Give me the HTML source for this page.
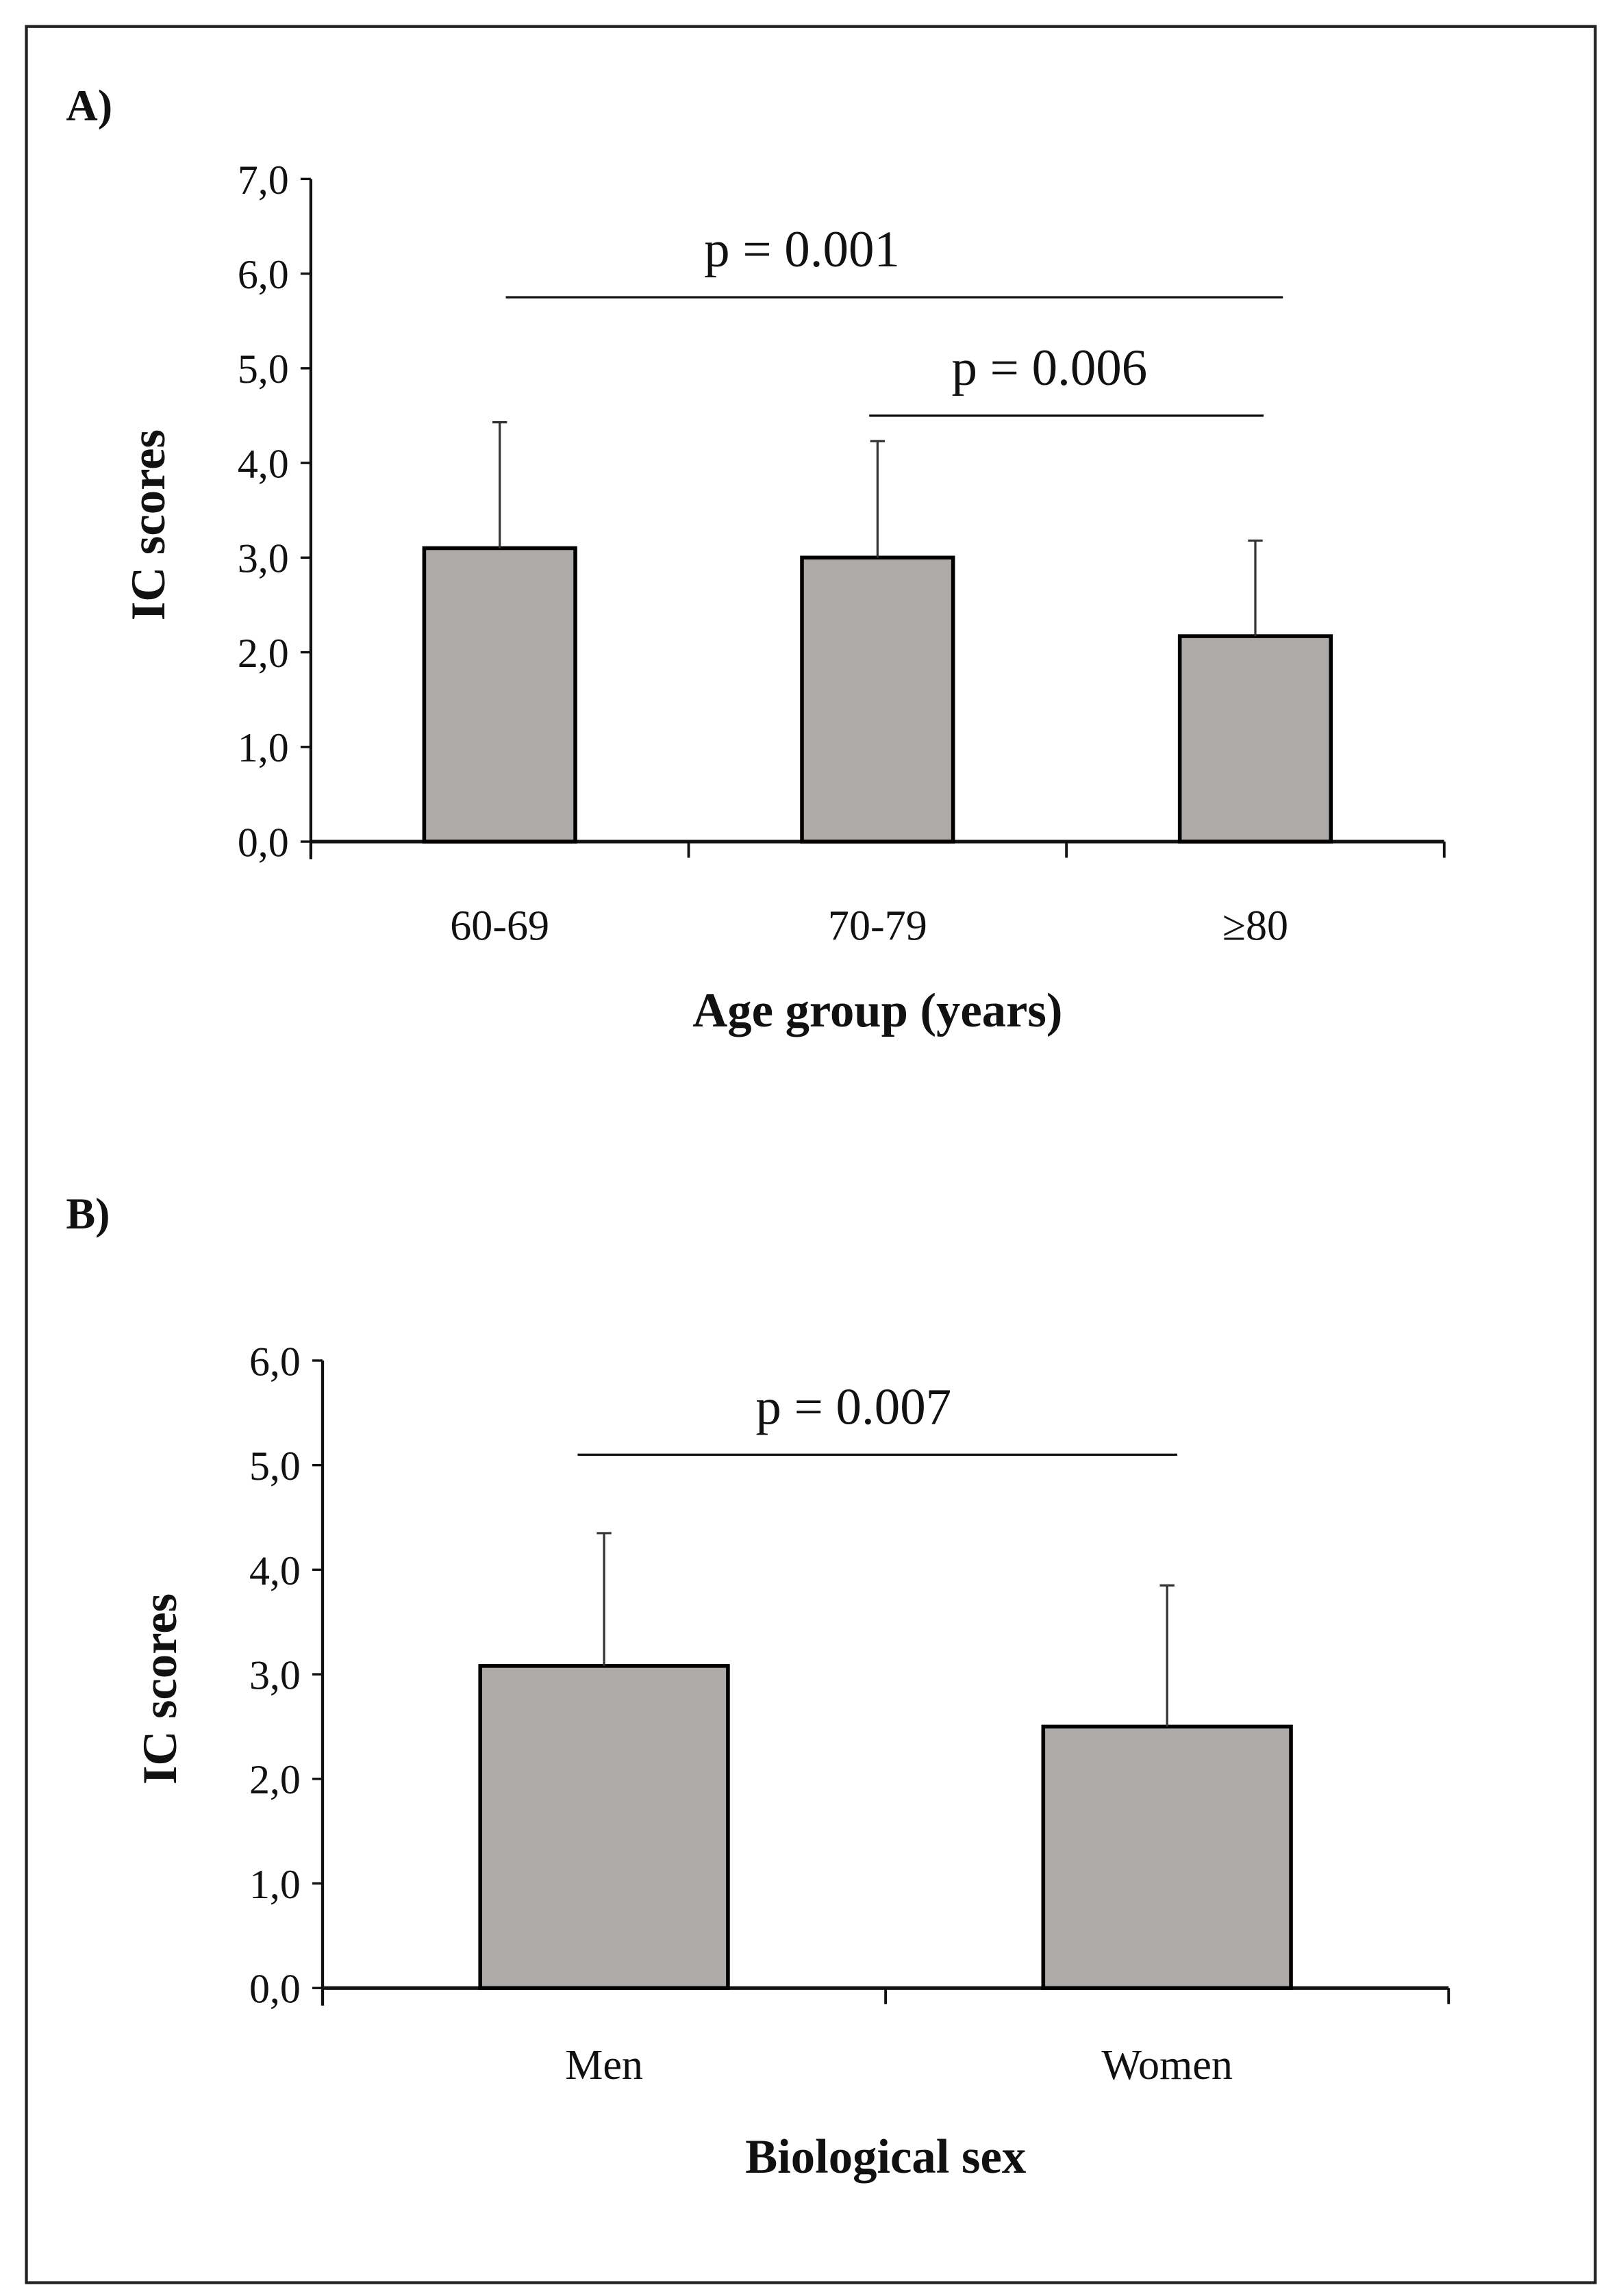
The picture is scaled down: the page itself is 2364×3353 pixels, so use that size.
<!DOCTYPE html>
<html><head><meta charset="utf-8"><style>
html,body{margin:0;padding:0;background:#fff}
svg{display:block}
text{font-family:"Liberation Serif",serif;fill:#111}
</style></head><body>
<svg id="fig" width="2364" height="3353" viewBox="0 0 1104.2 1566" xmlns="http://www.w3.org/2000/svg">
<rect x="18" y="18" width="1070" height="1539" fill="none" stroke="#222" stroke-width="2"/>
<text x="45" y="82" font-size="30" font-weight="bold">A)</text>
<text x="45" y="838" font-size="30" font-weight="bold">B)</text>
<g id="chartA"></g>
<g id="chartB"></g>
</svg>
<script>
const ageCategories = ["60-69", "70-79", "≥80"];
const ageMeans = [3.1, 3.0, 2.17];
const ageErrTops = [4.43, 4.23, 3.18];
const ageTicks = ["0,0","1,0","2,0","3,0","4,0","5,0","6,0","7,0"];
const ageSig = [{from:0.516, to:2.573, val:5.75, at:1.3, label:"p = 0.001"}, {from:1.478, to:2.522, val:4.5, at:1.955, label:"p = 0.006"}];

const sexCategories = ["Men", "Women"];
const sexMeans = [3.08, 2.5];
const sexErrTops = [4.35, 3.85];
const sexTicks = ["0,0","1,0","2,0","3,0","4,0","5,0","6,0"];
const sexSig = [{from:0.453, to:1.518, val:5.1, at:0.943, label:"p = 0.007"}];

const NS = "http://www.w3.org/2000/svg";
function mk(parent, tag, attrs, txt){
  const e = document.createElementNS(NS, tag);
  for (const k in attrs) e.setAttribute(k, attrs[k]);
  if (txt !== undefined) e.textContent = txt;
  parent.appendChild(e);
  return e;
}
function drawChart(g, cfg, cats, means, errs, ticks, sigs){
  const x0 = cfg.x0, x1 = cfg.x1, y0 = cfg.y0, yTop = cfg.yTop, maxV = ticks.length - 1;
  const yS = v => y0 - (y0 - yTop) * v / maxV;
  const band = (x1 - x0) / cats.length;
  const xS = i => x0 + band * (i + 0.5);
  const xB = u => x0 + band * u;
  let e = mk(g, "line", {x1:x0, y1:yTop, x2:x0, y2:y0+12, stroke:"#111", "stroke-width":2});
  
  
  ticks.forEach((t, i) => {
    const y = yS(i);
    let l = mk(g, "line", {x1:x0-7, y1:y, x2:x0, y2:y, stroke:"#111", "stroke-width":1.6});
    
    
    let tx = mk(g, "text", {x:x0-15, y:y+10, "font-size":28, "text-anchor":"end"}, t);
    
    
  });
  e = mk(g, "line", {x1:x0, y1:y0, x2:x1, y2:y0, stroke:"#111", "stroke-width":2.4});
  
  
  for (let i = 0; i <= cats.length; i++) {
    const x = xB(i);
    let l = mk(g, "line", {x1:x, y1:y0, x2:x, y2:y0+11, stroke:"#111", "stroke-width":1.8});
    
    
  }
  cats.forEach((c, i) => {
    const cx = xS(i), w = band * cfg.barFrac;
    let r = mk(g, "rect", {x:cx - w/2, y:yS(means[i]), width:w, height:y0 - yS(means[i]), fill:"#aeaaa8", stroke:"#000", "stroke-width":2.6});
    
    
    let eb = mk(g, "line", {x1:cx, y1:yS(means[i]), x2:cx, y2:yS(errs[i]), stroke:"#333", "stroke-width":1.5});
    
    
    let cap = mk(g, "line", {x1:cx-5, y1:yS(errs[i]), x2:cx+5, y2:yS(errs[i]), stroke:"#333", "stroke-width":1.5});
    
    
    let lb = mk(g, "text", {x:cx, y:cfg.catY, "font-size":29, "text-anchor":"middle"}, c);
    
    
  });
  sigs.forEach(s => {
    const y = yS(s.val);
    let l = mk(g, "line", {x1:xB(s.from), y1:y, x2:xB(s.to), y2:y, stroke:"#111", "stroke-width":1.5});
    
    
    let t = mk(g, "text", {x:xB(s.at), y:y-21, "font-size":35, "text-anchor":"middle"}, s.label);
    
    
  });
  let xt = mk(g, "text", {x:(x0+x1)/2, y:cfg.titleY, "font-size":33, "font-weight":"bold", "text-anchor":"middle"}, cfg.xTitle);
  
  
  let yt = mk(g, "text", {x:0, y:0, "font-size":33, "font-weight":"bold", "text-anchor":"middle", transform:"translate(" + cfg.yTitleX + "," + ((yTop+y0)/2 + 10) + ") rotate(-90)"}, "IC scores");
  
  
}
drawChart(document.getElementById("chartA"), {x0:212, x1:985, y0:574, yTop:122, barFrac:0.4, catY:641, titleY:700, xTitle:"Age group (years)", yTitleX:112}, ageCategories, ageMeans, ageErrTops, ageTicks, ageSig);
drawChart(document.getElementById("chartB"), {x0:220, x1:988, y0:1356, yTop:928, barFrac:0.44, catY:1418, titleY:1482, xTitle:"Biological sex", yTitleX:120}, sexCategories, sexMeans, sexErrTops, sexTicks, sexSig);
</script>
</body></html>
